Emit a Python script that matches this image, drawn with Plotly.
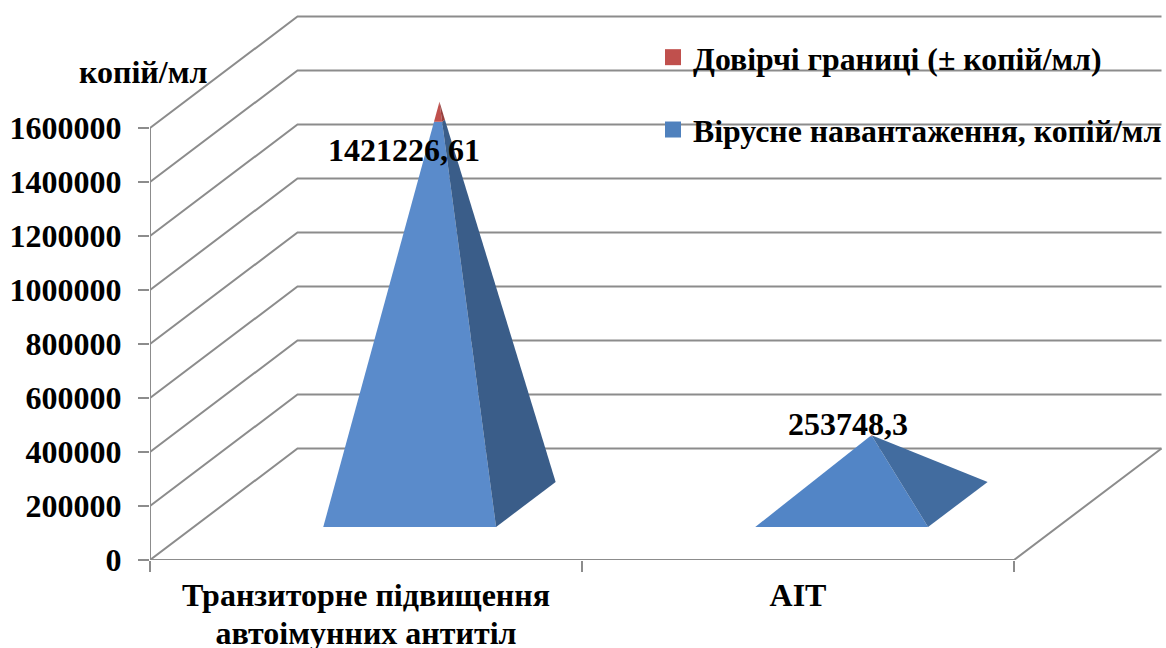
import plotly.graph_objects as go

category_lines = [["Транзиторне підвищення", "автоімунних антитіл"], ["АІТ"]]
virus_load = [1421226.61, 253748.3]
confidence = [70000, 3000]
data_labels = ["1421226,61", "253748,3"]
value_ticks = [0, 200000, 400000, 600000, 800000, 1000000, 1200000, 1400000, 1600000]
series_names = ["Довірчі границі (± копій/мл)", "Вірусне навантаження, копій/мл"]
axis_title = "копій/мл"

PX_W = 1166
PX_H = 648
LEFT = 150
BOTTOM = 88
CAT_PX = 432.0
VAL_PER_PX = 1600000 / 432.0
DEPTH_X = 147.5 / CAT_PX
DEPTH_Y = 111.5 * VAL_PER_PX
BAR_HALF = 0.2
DEPTH_NEAR, DEPTH_FAR = 0.296, 0.70

FONT = "Liberation Serif"
GRID = "#8c8c8c"
BLUE_FRONT = ["#5a8bcb", "#5285c6"]
BLUE_SIDE = ["#3a5d89", "#426c9f"]
RED_FRONT = "#c0504d"
RED_SIDE = "#96403e"
LEGEND_BLUE = "#4f81bd"

categories = ["<br>".join(f'<span style="font-size:32px">{t}</span>' for t in lines)
              for lines in category_lines]


def project(cat, depth, value):
    return cat + depth * DEPTH_X, value + depth * DEPTH_Y


def face(points, color):
    xs, ys = zip(*[project(*p) for p in points])
    return go.Scatter(x=list(xs) + [xs[0]], y=list(ys) + [ys[0]], mode="lines", fill="toself",
                      fillcolor=color, line=dict(width=0), hoverinfo="skip", showlegend=False)


def line(points, width=2):
    xs, ys = zip(*[project(*p) for p in points])
    return go.Scatter(x=xs, y=ys, mode="lines", line=dict(color=GRID, width=width),
                      hoverinfo="skip", showlegend=False)


def frustum(center, low, high, total, front, side):
    """Slice of a square pyramid between two heights; the apex sits at `total`."""
    mid = (DEPTH_NEAR + DEPTH_FAR) / 2
    half_d = (DEPTH_FAR - DEPTH_NEAR) / 2
    a = 1 - low / total
    b = 1 - high / total
    w0, w1 = BAR_HALF * a, BAR_HALF * b
    d0, d1 = half_d * a, half_d * b
    return [
        face([(center - w0, mid - d0, low), (center + w0, mid - d0, low),
              (center + w1, mid - d1, high), (center - w1, mid - d1, high)], front),
        face([(center + w0, mid - d0, low), (center + w0, mid + d0, low),
              (center + w1, mid + d1, high), (center + w1, mid - d1, high)], side),
    ]


fig = go.Figure()

# legend entries
for name, col in zip(series_names, [RED_FRONT, LEGEND_BLUE]):
    fig.add_trace(go.Scatter(x=[None], y=[None], mode="markers", name=name, legendgroup=name,
                             marker=dict(symbol="square", size=16, color=col)))

# walls and floor
n_cats = len(categories)
for v in value_ticks:
    fig.add_trace(line([(0, 0, v), (0, 1, v), (n_cats, 1, v)]))
fig.add_trace(line([(0, 0, 0), (0, 0, value_ticks[-1])]))
fig.add_trace(line([(0, 0, 0), (n_cats, 0, 0), (n_cats, 1, 0)]))

# pyramids
for i in range(n_cats):
    c = i + 0.5
    total = virus_load[i] + confidence[i]
    for tr in frustum(c, 0, virus_load[i], total, BLUE_FRONT[i], BLUE_SIDE[i]):
        fig.add_trace(tr)
    for tr in frustum(c, virus_load[i], total, total, RED_FRONT, RED_SIDE):
        fig.add_trace(tr)

label_font = dict(family=FONT, size=32, color="black", weight=700)
label_shift = [(-36, -29), (-24, 12)]
annotations = []
for i, txt in enumerate(data_labels):
    x, y = project(i + 0.5, 0.5, virus_load[i])
    annotations.append(dict(x=x, y=y, text=txt, showarrow=False, xshift=label_shift[i][0],
                            yshift=label_shift[i][1], font=label_font))
annotations.append(dict(x=(143 - LEFT) / (PX_W - LEFT), y=1 - 72 / (PX_H - BOTTOM),
                        xref="paper", yref="paper", text=axis_title, xanchor="center", yanchor="middle",
                        showarrow=False, font=dict(family=FONT, size=32, color="black", weight=700)))

fig.update_layout(
    width=PX_W, height=PX_H,
    margin=dict(l=LEFT, r=0, t=0, b=BOTTOM, pad=0, autoexpand=False),
    paper_bgcolor="white", plot_bgcolor="white",
    annotations=annotations,
    hovermode=False,
    legend=dict(x=(653 - LEFT) / (PX_W - LEFT), y=1 - 30 / (PX_H - BOTTOM), xanchor="left", yanchor="top",
                bgcolor="rgba(0,0,0,0)", tracegroupgap=28, itemsizing="trace", itemwidth=30,
                font=dict(family=FONT, size=31.8, color="black", weight=700)),
    xaxis=dict(range=[0, (PX_W - LEFT) / CAT_PX], tickmode="array", automargin=False,
               tickvals=[i + 0.5 for i in range(n_cats)], ticktext=categories, ticks="",
               showgrid=False, zeroline=False, showline=False, ticklabelstandoff=16,
               tickfont=dict(family=FONT, size=29, color="black", weight=700),
               minor=dict(tickmode="array", tickvals=list(range(n_cats + 1)), ticks="outside",
                          ticklen=11, tickwidth=2, tickcolor=GRID, showgrid=False)),
    yaxis=dict(range=[0, VAL_PER_PX * (PX_H - BOTTOM)], tickmode="array", tickvals=value_ticks, automargin=False,
               ticktext=[str(v) for v in value_ticks], ticks="outside", ticklen=11, tickwidth=2,
               tickcolor=GRID, showgrid=False, zeroline=False, showline=False, ticklabelstandoff=10,
               tickfont=dict(family=FONT, size=32, color="black", weight=700)),
)

fig.write_html("out.html", config={"displayModeBar": False},
               post_script="document.body.style.margin='0';")
